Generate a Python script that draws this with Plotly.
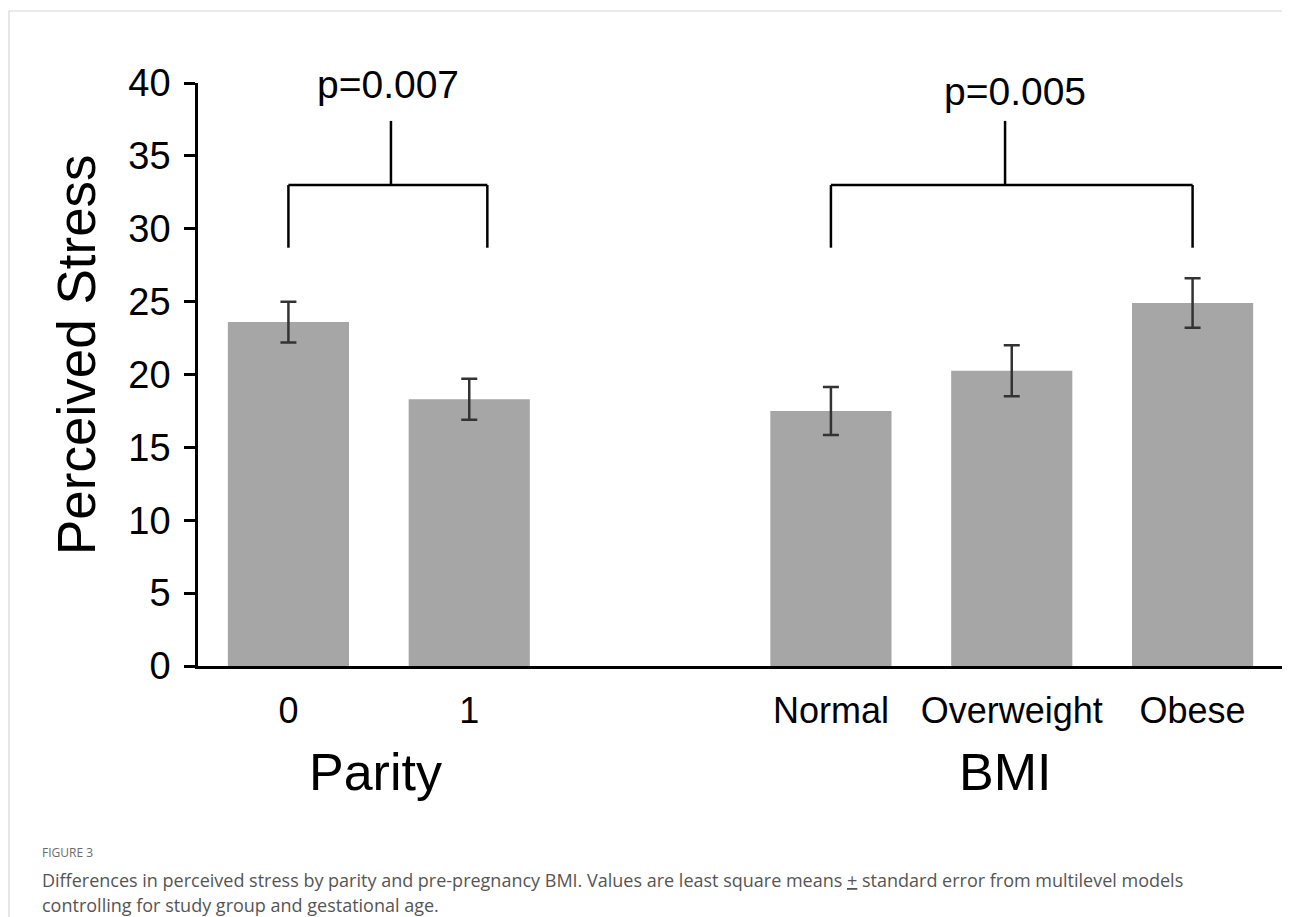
import plotly.graph_objects as go

# ---- data ----
categories = ["0", "1", "Normal", "Overweight", "Obese"]
positions = [0, 1, 3, 4, 5]
means = [23.6, 18.3, 17.5, 20.25, 24.9]
std_err = [1.4, 1.4, 1.65, 1.75, 1.7]
group_titles = ["Parity", "BMI"]
p_values = ["p=0.007", "p=0.005"]
y_ticks = [0, 5, 10, 15, 20, 25, 30, 35, 40]

OFF = 8  # page body margin
W, H = 1290 - OFF, 917 - OFF
L, R, T, B = 198 - OFF, 1283 - OFF, 83 - OFF, 666 - OFF  # plot area in pixels


def px_x(p):
    return (p - OFF - L) / (R - L)


def px_y(p):
    return (B - (p - OFF)) / (B - T)


FONT = "Liberation Sans, Arial, sans-serif"

fig = go.Figure()
fig.add_trace(go.Bar(
    x=positions, y=means, width=0.67,
    marker=dict(color="#a6a6a6", line=dict(width=0)),
    error_y=dict(type="data", array=std_err, visible=True,
                 color="#333333", thickness=2.5, width=8),
    hoverinfo="skip",
))

shapes = []
# frame
shapes.append(dict(type="rect", xref="paper", yref="paper",
                   x0=px_x(9), x1=px_x(1320), y0=px_y(1000), y1=px_y(11),
                   line=dict(color="#d6d6d6", width=1.2), layer="below"))
# significance brackets
bracket_spec = [
    (0, 1.10, 0.567),
    (3.0, 5.0, 3.963),
]
y_bar, y_leg, y_stem = 33.0, 28.7, 37.4
for x0, x1, xs in bracket_spec:
    ln = dict(color="black", width=2.5)
    shapes.append(dict(type="line", xref="x", yref="y", x0=x0, x1=x1, y0=y_bar, y1=y_bar, line=ln))
    shapes.append(dict(type="line", xref="x", yref="y", x0=x0, x1=x0, y0=y_leg, y1=y_bar, line=ln))
    shapes.append(dict(type="line", xref="x", yref="y", x0=x1, x1=x1, y0=y_leg, y1=y_bar, line=ln))
    shapes.append(dict(type="line", xref="x", yref="y", x0=xs, x1=xs, y0=y_bar, y1=y_stem, line=ln))


def ann(x, y, text, size, xref="paper", xanchor="center", color="black", family=FONT, **kw):
    return dict(x=x, y=y, xref=xref, yref="paper", text=text, showarrow=False,
                xanchor=xanchor, yanchor="middle",
                font=dict(family=family, size=size, color=color), **kw)


annotations = [
    ann(0.55, px_y(84), p_values[0], 39, xref="x"),
    ann(4.02, px_y(91), p_values[1], 39, xref="x"),
    ann(0.48, px_y(772), group_titles[0], 52, xref="x"),
    ann(3.96, px_y(772), group_titles[1], 52, xref="x"),
    ann(px_x(76), px_y(355), "Perceived Stress", 53, textangle=-90),
]
CAP = "Open Sans, Noto Sans, sans-serif"
annotations.append(ann(px_x(40), px_y(852), "FIGURE 3", 12, xanchor="left",
                       color="#6b6b6b", family=CAP))
annotations.append(ann(px_x(40), px_y(880),
                       "Differences in perceived stress by parity and pre-pregnancy BMI. Values are least square means <u>+</u> standard error from multilevel models",
                       18, xanchor="left", color="#555555", family=CAP))
annotations.append(ann(px_x(40), px_y(905),
                       "controlling for study group and gestational age.",
                       18, xanchor="left", color="#555555", family=CAP))

fig.update_layout(
    width=W, height=H,
    margin=dict(l=L, r=W - R, t=T, b=H - B, pad=0),
    paper_bgcolor="white", plot_bgcolor="white",
    showlegend=False,
    shapes=shapes, annotations=annotations,
    xaxis=dict(range=[-0.5, 5.5], tickvals=positions, ticktext=categories,
               showline=True, linecolor="black", linewidth=2.5, ticks="",
               showgrid=False, zeroline=False, ticklabelstandoff=11,
               tickfont=dict(family=FONT, size=36, color="black"), fixedrange=True),
    yaxis=dict(range=[0, 40], tickvals=y_ticks,
               showline=True, linecolor="black", linewidth=2.5,
               ticks="outside", ticklen=11, tickwidth=2.5, tickcolor="black",
               showgrid=False, zeroline=False, ticklabelstandoff=6,
               tickfont=dict(family=FONT, size=38, color="black"), fixedrange=True),
)

fig.write_html("out.html")
